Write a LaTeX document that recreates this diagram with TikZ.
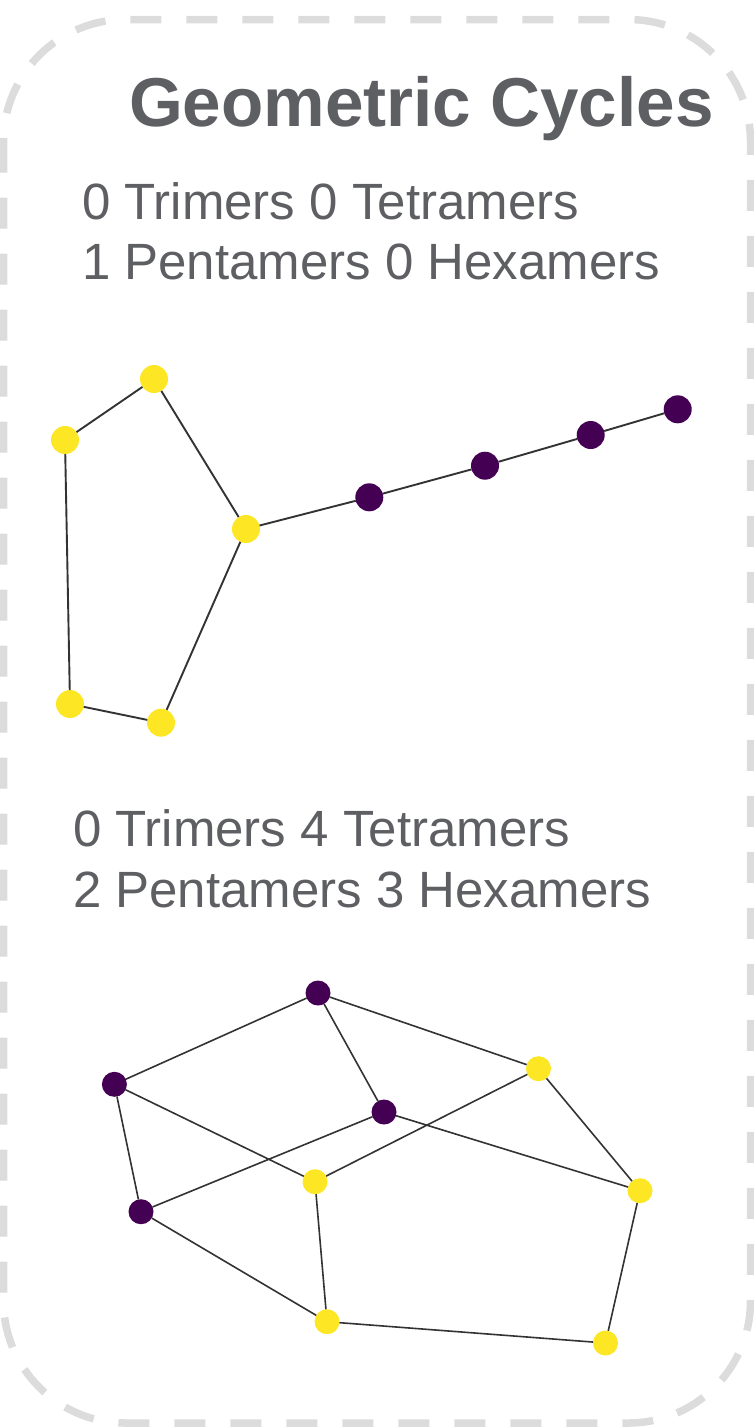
\documentclass[tikz,border=0pt]{standalone}
\usepackage{fontspec}
\setmainfont{Liberation Sans}
\begin{document}
\begin{tikzpicture}[x=1pt,y=-1pt,
  every node/.style={inner sep=0pt, outer sep=0pt},
  ylw/.style={circle, fill=vyellow, minimum size=28pt},
  prp/.style={circle, fill=vpurple, minimum size=28pt},
  ylws/.style={circle, fill=vyellow, minimum size=25pt},
  prps/.style={circle, fill=vpurple, minimum size=25pt},
  edgeA/.style={draw=edgegray, line width=1.9pt},
  edgeB/.style={draw=edgegray, line width=1.6pt},
  heading/.style={anchor=base west, text=txtgray, font=\fontsize{69.2}{80}\selectfont\bfseries},
  counts/.style={anchor=base west, text=txtgray, font=\fontsize{51}{60}\selectfont}
]
\definecolor{vyellow}{HTML}{FDE725}
\definecolor{vpurple}{HTML}{440154}
\definecolor{edgegray}{HTML}{333333}
\definecolor{txtgray}{HTML}{5E5F63}
\definecolor{framegray}{HTML}{DCDCDC}

\useasboundingbox (0,0) rectangle (754,1427);

% dashed rounded frame
\draw[framegray, line width=7.5pt, dash pattern=on 31pt off 25pt, rounded corners=122pt]
  (3.5,19.5) rectangle (750.5,1423);

% heading and cycle counts
\node[heading] (title) at (129,126.7) {Geometric Cycles};
\node[counts] (c1a) at (82,219) {0 Trimers 0 Tetramers};
\node[counts] (c1b) at (82,279.3) {1 Pentamers 0 Hexamers};
\node[counts] (c2a) at (73,846.7) {0 Trimers 4 Tetramers};
\node[counts] (c2b) at (73,907.3) {2 Pentamers 3 Hexamers};

% first molecule: a pentamer ring with a tail
\node[ylw] (a) at (154,379) {};
\node[ylw] (b) at (65,440) {};
\node[ylw] (c) at (246,529) {};
\node[ylw] (d) at (70,704) {};
\node[ylw] (e) at (161,722.7) {};
\node[prp] (p1) at (369.3,497.3) {};
\node[prp] (p2) at (485,465.7) {};
\node[prp] (p3) at (590.7,435) {};
\node[prp] (p4) at (677.7,409.3) {};

\path[edgeA] (a) -- (b) (a) -- (c) (b) -- (d) (d) -- (e) (e) -- (c)
  (c) -- (p1) (p1) -- (p2) (p2) -- (p3) (p3) -- (p4);

% second molecule: fused rings
\node[prps] (q1) at (318,993) {};
\node[prps] (q2) at (114.4,1084.3) {};
\node[prps] (q3) at (384,1112) {};
\node[prps] (q4) at (141,1211.7) {};
\node[ylws] (y1) at (538.5,1068.7) {};
\node[ylws] (y2) at (315,1181.7) {};
\node[ylws] (y3) at (640,1190.7) {};
\node[ylws] (y4) at (327,1321.7) {};
\node[ylws] (y5) at (605.5,1343) {};

\path[edgeB] (q1) -- (q2) (q1) -- (q3) (q1) -- (y1) (q2) -- (y2) (q2) -- (q4)
  (q3) -- (q4) (q3) -- (y3) (y1) -- (y2) (y1) -- (y3) (y2) -- (y4)
  (q4) -- (y4) (y4) -- (y5) (y3) -- (y5);
\end{tikzpicture}
\end{document}
